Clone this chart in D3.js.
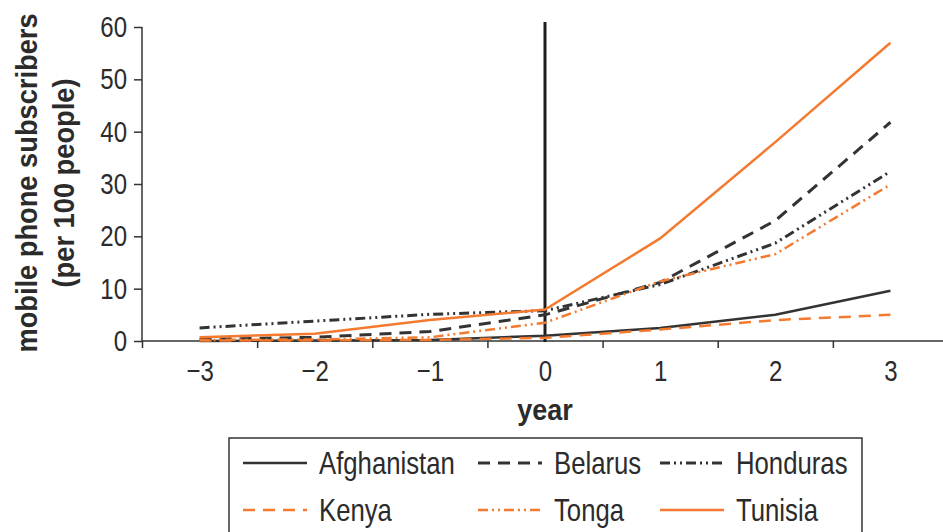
<!DOCTYPE html>
<meta charset="utf-8">
<style>
body { margin: 0; background: #fff; }
text { font-family: "Liberation Sans", Arial, sans-serif; fill: #2b2b2b; }
.axis path, .axis line { stroke: #333; stroke-width: 1.5px; }
.axis text { font-size: 30px; fill: #2b2b2b; font-family: "Liberation Sans", Arial, sans-serif; }
.title { font-weight: bold; font-size: 29px; }
.legend text { font-size: 31px; }
</style>
<svg width="943" height="532"></svg>
<script src="https://d3js.org/d3.v7.min.js"></script>
<script>

var years = [-3, -2, -1, 0, 1, 2, 3];
var countries = ["Afghanistan", "Belarus", "Honduras", "Kenya", "Tonga", "Tunisia"];
var afghanistan = [0.0, 0.1, 0.2, 1.0, 2.5, 5.0, 9.6];
var belarus     = [0.3, 0.7, 1.8, 5.0, 11.2, 23.0, 41.8];
var honduras    = [2.5, 3.8, 5.1, 5.8, 10.8, 18.7, 32.4];
var kenya       = [0.1, 0.1, 0.2, 0.6, 2.2, 4.0, 5.0];
var tonga       = [0.2, 0.3, 0.7, 3.5, 11.4, 16.6, 29.9];
var tunisia     = [0.7, 1.4, 4.0, 6.0, 19.6, 38.0, 57.0];
var yTicks = [0, 10, 20, 30, 40, 50, 60];
var xMinorTicks = [-3.5, -2.5, -1.5, -0.5, 0.5, 1.5, 2.5];

var orange = "#f47a30", dark = "#333";
var narrow = 0.8; // squeeze to mimic a condensed face

var series = [
  { name: "Afghanistan", values: afghanistan, color: dark,   dash: null,              w: 2.5 },
  { name: "Belarus",     values: belarus,     color: dark,   dash: "12,8",            w: 3 },
  { name: "Honduras",    values: honduras,    color: dark,   dash: "10,4,2,4,2,4",    w: 3 },
  { name: "Kenya",       values: kenya,       color: orange, dash: "12,8",            w: 2.5 },
  { name: "Tonga",       values: tonga,       color: orange, dash: "10,4,2,4,2,4",    w: 2.5 },
  { name: "Tunisia",     values: tunisia,     color: orange, dash: null,              w: 2.5 }
];

var svg = d3.select("svg");

var x = d3.scaleLinear().domain([-3.5, 3.5]).range([142, 948]);
var y = d3.scaleLinear().domain([0, 60]).range([341, 27]);

// y axis
var yAxis = svg.append("g")
    .attr("class", "axis")
    .attr("transform", "translate(" + x(-3.5) + ",0)")
    .call(d3.axisLeft(y).tickValues(yTicks).tickSize(8).tickSizeOuter(0));
yAxis.select(".domain").attr("d", "M0," + y(60) + "V" + y(0));
yAxis.selectAll(".tick text")
    .attr("x", -15 / narrow)
    .attr("transform", "scale(" + narrow + ",1)");

// x axis: ticks at half years, labels at whole years
var xAxis = svg.append("g")
    .attr("class", "axis")
    .attr("transform", "translate(0," + y(0) + ")")
    .call(d3.axisBottom(x).tickValues(xMinorTicks).tickSize(7).tickSizeOuter(0).tickFormat(""));
xAxis.select(".domain").attr("d", "M" + x(-3.5) + ",0H943");

var xLabels = svg.append("g")
    .attr("class", "axis")
    .attr("transform", "translate(0," + y(0) + ")")
    .call(d3.axisBottom(x).tickValues(years).tickSize(0).tickPadding(19).tickFormat(d3.format("d")));
xLabels.select(".domain").remove();
xLabels.selectAll(".tick text").attr("transform", "scale(" + narrow + ",1)");

// vertical marker at year 0
svg.append("line")
    .attr("x1", x(0)).attr("x2", x(0))
    .attr("y1", 22).attr("y2", y(0) + 1)
    .attr("stroke", "#1e1e1e")
    .attr("stroke-width", 3);

var line = d3.line()
    .x(function(d, i) { return x(years[i]); })
    .y(function(d) { return y(d); });

svg.append("g").selectAll("path")
  .data(series)
  .enter().append("path")
    .attr("d", function(d) { return line(d.values); })
    .attr("fill", "none")
    .attr("stroke", function(d) { return d.color; })
    .attr("stroke-width", function(d) { return d.w; })
    .attr("stroke-dasharray", function(d) { return d.dash; });

// axis titles
svg.append("text")
    .attr("class", "title")
    .attr("transform", "translate(" + x(0) + ",420) scale(0.93,1)")
    .attr("text-anchor", "middle")
    .text("year");

var yt = svg.append("text")
    .attr("class", "title")
    .attr("transform", "translate(37,183) rotate(-90) scale(0.94,1)")
    .attr("text-anchor", "middle");
yt.append("tspan").attr("x", 0).attr("y", 0).text("mobile phone subscribers");
yt.append("tspan").attr("x", 0).attr("y", 37).text("(per 100 people)");

// legend
var legend = svg.append("g").attr("class", "legend");
legend.append("rect")
    .attr("x", 229).attr("y", 438)
    .attr("width", 633).attr("height", 130)
    .attr("fill", "none")
    .attr("stroke", "#333")
    .attr("stroke-width", 1.5);

var colX = [243, 478, 660], rowY = [463, 510];
var item = legend.selectAll("g.item")
  .data(series)
  .enter().append("g")
    .attr("class", "item")
    .attr("transform", function(d, i) { return "translate(" + colX[i % 3] + "," + rowY[Math.floor(i / 3)] + ")"; });

item.append("line")
    .attr("x1", 0).attr("x2", 64)
    .attr("stroke", function(d) { return d.color; })
    .attr("stroke-width", function(d) { return d.w; })
    .attr("stroke-dasharray", function(d) { return d.dash; });

item.append("text")
    .attr("x", 76 / 0.83)
    .attr("dy", "0.35em")
    .attr("transform", "scale(0.83,1)")
    .text(function(d) { return d.name; });

</script>
